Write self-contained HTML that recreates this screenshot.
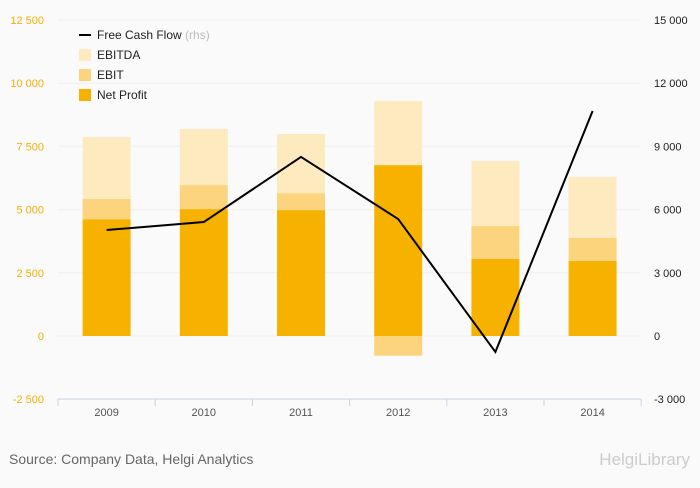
<!DOCTYPE html>
<html><head><meta charset="utf-8"><style>
body{margin:0;background:#fafafa;font-family:"Liberation Sans",sans-serif}
svg text{font-family:"Liberation Sans",sans-serif}
</style></head><body>
<svg id="c" width="700" height="483" xmlns="http://www.w3.org/2000/svg">
<rect width="700" height="483" fill="#fafafa"/>
<text x="9" y="464" font-size="14" fill="#666">Source: Company Data, Helgi Analytics</text>
<text x="690" y="465" font-size="17" fill="#ccc" text-anchor="end">HelgiLibrary</text>
</svg>
<script>
const categories=["2009","2010","2011","2012","2013","2014"];
const netProfit=[4620,5020,4980,6760,3050,2970];
const ebit=[5420,5970,5650,-780,4350,3880];
const ebitda=[7870,8190,7990,9300,6920,6290];
const fcf=[5030,5410,8500,5550,-760,10680];
const leftTicks=[-2500,0,2500,5000,7500,10000,12500];
const rightTicks=[-3000,0,3000,6000,9000,12000,15000];
const legendLabels=["Free Cash Flow","EBITDA","EBIT","Net Profit"];
const svg=document.getElementById('c');
const NS="http://www.w3.org/2000/svg";
const y0=336,plotTop=20;
const yL=v=>y0-(v/12500)*(y0-plotTop);
const yR=v=>y0-(v/15000)*(y0-plotTop);
const x0=58,step=97.2;
const xC=i=>x0+step*(i+0.5);
function mk(t,a,p){const e=document.createElementNS(NS,t);for(const k in a)e.setAttribute(k,a[k]);(p||svg).appendChild(e);return e;}
leftTicks.forEach(v=>{
  const g=mk('line',{x1:58,x2:641,y1:yL(v),y2:yL(v),stroke:'#f0f0f0','stroke-width':1});
  
  
  const t=mk('text',{x:44,y:yL(v)+4,'font-size':11,fill:'#f5b000','text-anchor':'end'});
  t.textContent=v.toLocaleString('en-US').replace(/,/g,' ');
  
  
});
rightTicks.forEach(v=>{
  const t=mk('text',{x:654,y:yR(v)+4,'font-size':11,fill:'#222'});
  t.textContent=v.toLocaleString('en-US').replace(/,/g,' ');
  
  
});
const bw=48;
function bar(i,a,b,col,name){
  const r=mk('rect',{x:xC(i)-bw/2,y:Math.min(yL(a),yL(b)),width:bw,height:Math.abs(yL(a)-yL(b)),fill:col});
  
  
}
categories.forEach((c,i)=>{
  const n=netProfit[i],e=ebit[i],d=ebitda[i];
  bar(i,0,n,'#f7b200','bar-net-profit-'+c);
  if(e>=n) bar(i,n,e,'#fdd47e','bar-ebit-'+c); else if(e<0) bar(i,e,0,'#fdd47e','bar-ebit-'+c);
  const base=Math.max(n,e);
  bar(i,base,d,'#feeabf','bar-ebitda-'+c);
  const t=mk('text',{x:xC(i),y:416,'font-size':11,fill:'#555','text-anchor':'middle'});
  t.textContent=c;
  
  
});
const ax=mk('line',{x1:58,x2:641,y1:399,y2:399,stroke:'#c9d3ea'});


for(let i=0;i<=categories.length;i++){
  const tk=mk('line',{x1:x0+step*i,x2:x0+step*i,y1:399,y2:406,stroke:'#c9d3ea'});
  
  
}
const pl=mk('polyline',{points:fcf.map((v,i)=>xC(i)+','+yR(v)).join(' '),fill:'none',stroke:'#000','stroke-width':2});


const cols=[null,'#feeabf','#fdd47e','#f7b200'];
legendLabels.forEach((l,i)=>{
  const y=35+i*20;
  const g=mk('g',{});
  
  
  if(i==0) mk('line',{x1:79,x2:91,y1:y,y2:y,stroke:'#000','stroke-width':2},g);
  else mk('rect',{x:79,y:y-6,width:12,height:12,fill:cols[i]},g);
  const t=mk('text',{x:97,y:y+4,'font-size':12,fill:'#222'},g);
  t.textContent=l;
  if(i==0){const s=mk('tspan',{fill:'#bbb'},t);s.textContent=' (rhs)';}
});
</script>
</body></html>
